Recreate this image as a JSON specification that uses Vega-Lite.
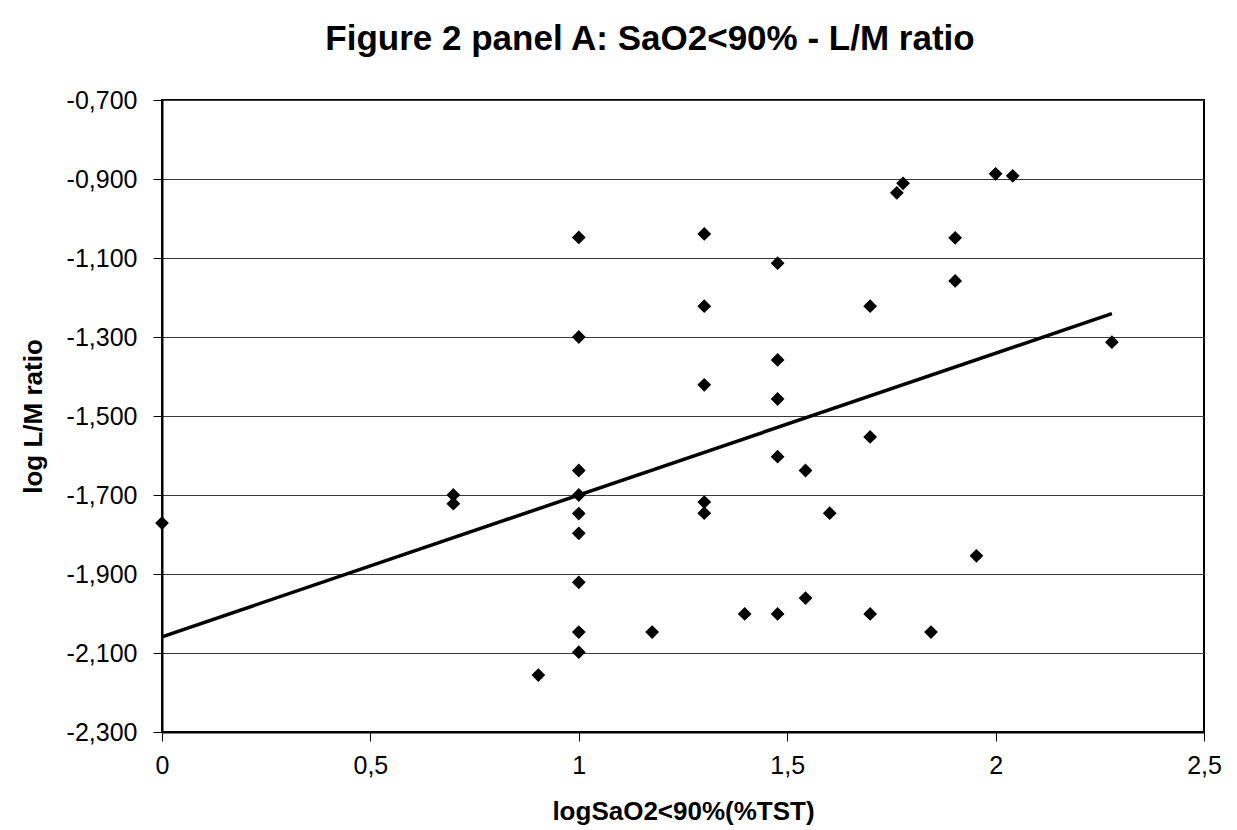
{
  "$schema": "https://vega.github.io/schema/vega-lite/v6.json",
  "width": 1042,
  "height": 632,
  "autosize": "none",
  "padding": {"left": 162, "top": 100, "right": 33, "bottom": 98},
  "background": "white",
  "title": {
    "text": "Figure 2 panel A: SaO2<90%  - L/M ratio",
    "font": "Liberation Sans",
    "fontSize": 35,
    "fontWeight": "bold",
    "color": "black",
    "anchor": "middle",
    "baseline": "alphabetic",
    "offset": 3,
    "dx": -33
  },
  "config": {
    "locale": {
      "number": {"decimal": ",", "thousands": ".", "grouping": [3], "currency": ["", " €"], "minus": "-"}
    },
    "view": {"stroke": "black", "strokeWidth": 2},
    "axis": {
      "labelFont": "Liberation Sans",
      "labelFontSize": 25,
      "labelColor": "black",
      "titleFont": "Liberation Sans",
      "titleFontSize": 26,
      "titleFontWeight": "bold",
      "titleColor": "black",
      "domainColor": "black",
      "domainWidth": 2,
      "tickColor": "black",
      "tickWidth": 1,
      "tickSize": 9
    }
  },
  "datasets": {
    "points": [
      {"logSaO2": 0, "logLM": -1.771},
      {"logSaO2": 0.699, "logLM": -1.700},
      {"logSaO2": 0.699, "logLM": -1.722},
      {"logSaO2": 0.903, "logLM": -2.156},
      {"logSaO2": 1, "logLM": -1.048},
      {"logSaO2": 1, "logLM": -1.300},
      {"logSaO2": 1, "logLM": -1.638},
      {"logSaO2": 1, "logLM": -1.700},
      {"logSaO2": 1, "logLM": -1.747},
      {"logSaO2": 1, "logLM": -1.797},
      {"logSaO2": 1, "logLM": -1.921},
      {"logSaO2": 1, "logLM": -2.047},
      {"logSaO2": 1, "logLM": -2.098},
      {"logSaO2": 1.176, "logLM": -2.047},
      {"logSaO2": 1.301, "logLM": -1.039},
      {"logSaO2": 1.301, "logLM": -1.222},
      {"logSaO2": 1.301, "logLM": -1.421},
      {"logSaO2": 1.301, "logLM": -1.718},
      {"logSaO2": 1.301, "logLM": -1.746},
      {"logSaO2": 1.398, "logLM": -2.001},
      {"logSaO2": 1.477, "logLM": -1.113},
      {"logSaO2": 1.477, "logLM": -1.358},
      {"logSaO2": 1.477, "logLM": -1.457},
      {"logSaO2": 1.477, "logLM": -1.603},
      {"logSaO2": 1.477, "logLM": -2.001},
      {"logSaO2": 1.544, "logLM": -1.638},
      {"logSaO2": 1.544, "logLM": -1.961},
      {"logSaO2": 1.602, "logLM": -1.746},
      {"logSaO2": 1.699, "logLM": -1.222},
      {"logSaO2": 1.699, "logLM": -1.553},
      {"logSaO2": 1.699, "logLM": -2.001},
      {"logSaO2": 1.763, "logLM": -0.935},
      {"logSaO2": 1.778, "logLM": -0.911},
      {"logSaO2": 1.845, "logLM": -2.047},
      {"logSaO2": 1.903, "logLM": -1.049},
      {"logSaO2": 1.903, "logLM": -1.158},
      {"logSaO2": 1.954, "logLM": -1.854},
      {"logSaO2": 2.0, "logLM": -0.887},
      {"logSaO2": 2.041, "logLM": -0.892},
      {"logSaO2": 2.279, "logLM": -1.313}
    ],
    "fit": [
      {"logSaO2": 0, "logLM": -2.059},
      {"logSaO2": 2.279, "logLM": -1.241}
    ]
  },
  "layer": [
    {
      "data": {"name": "points"},
      "mark": {"type": "point", "shape": "diamond", "filled": true, "color": "black", "opacity": 1, "size": 190, "clip": false},
      "encoding": {
        "x": {
          "field": "logSaO2",
          "type": "quantitative",
          "scale": {"domain": [0, 2.5], "nice": false, "zero": false},
          "axis": {
            "title": "logSaO2<90%(%TST)",
            "values": [0, 0.5, 1, 1.5, 2, 2.5],
            "format": "~g",
            "grid": false,
            "labelPadding": 12,
            "titlePadding": 20,
            "labelFlush": false
          }
        },
        "y": {
          "field": "logLM",
          "type": "quantitative",
          "scale": {"domain": [-2.3, -0.7], "nice": false, "zero": false},
          "axis": {
            "title": "log L/M ratio",
            "values": [-2.3, -2.1, -1.9, -1.7, -1.5, -1.3, -1.1, -0.9, -0.7],
            "format": ".3f",
            "grid": true,
            "gridColor": "#3a3a3a",
            "gridWidth": 1,
            "labelPadding": 16,
            "titlePadding": 20,
            "labelFlush": false
          }
        }
      }
    },
    {
      "data": {"name": "fit"},
      "mark": {"type": "line", "color": "black", "strokeWidth": 3.5, "strokeCap": "butt"},
      "encoding": {
        "x": {"field": "logSaO2", "type": "quantitative"},
        "y": {"field": "logLM", "type": "quantitative"}
      }
    }
  ]
}
